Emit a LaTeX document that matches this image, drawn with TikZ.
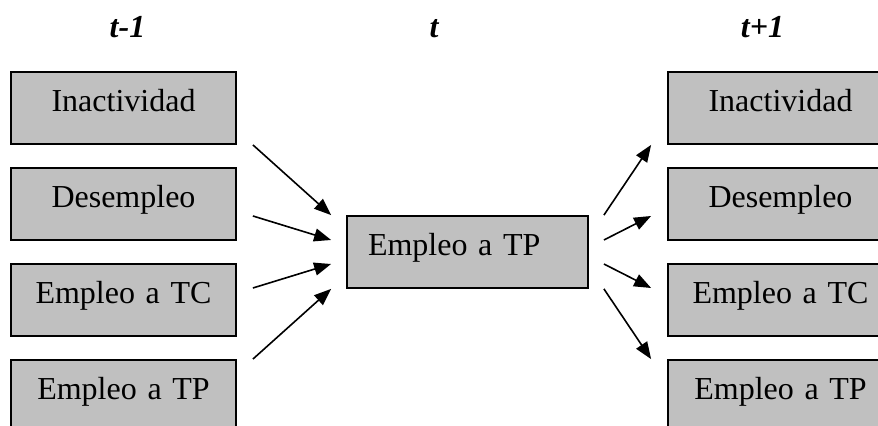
\documentclass[tikz,border=0pt]{standalone}
\usepackage{fontspec}
\setmainfont{Liberation Serif}
\usepackage{xcolor}
\usetikzlibrary{arrows.meta}
\usetikzlibrary{positioning,calc}
\definecolor{cajagris}{RGB}{192,192,192}

\begin{document}
\begin{tikzpicture}[x=0.5pt,y=-0.5pt,
	caja/.style={draw=black,line width=0.9pt,fill=cajagris,rectangle,inner xsep=0pt,inner ysep=0pt,text height=20pt,text depth=16pt,text width=112.5pt,align=center,font=\fontsize{16}{19}\selectfont},
	flecha/.style={-{Triangle[length=8.5pt,width=6.5pt]},line width=0.8pt},
	tiempo/.style={anchor=base,font=\fontsize{16}{19}\selectfont\bfseries\itshape}]
	\clip (0,0) rectangle (878,426);
	% periodos
	\node[tiempo] (h ant) at (127.5,38) {t-1};
	\node[tiempo] (h act) at (434,38) {t};
	\node[tiempo] (h sig) at (762.5,38) {t+1};
	% estados en t-1 y t+1
	\foreach \estado [count=\i] in {Inactividad,Desempleo,Empleo a TC,Empleo a TP} {
		\node[caja] (ant \i) at (123.5,12+96*\i) {\estado};
		\node[caja] (sig \i) at (780.5,12+96*\i) {\estado};
	}
	% estado en t
	\node[caja,text width=99.5pt,inner xsep=10.5pt,align=left] (act) at (467.5,252) {Empleo a TP};
	% entradas
	\draw[flecha] ([xshift=8pt]ant 1.south east) -- ([xshift=-7.5pt]act.north west);
	\draw[flecha] ([shift={(8pt,-6pt)}]ant 2.east) -- ([shift={(-7.5pt,6pt)}]act.west);
	\draw[flecha] ([shift={(8pt,6pt)}]ant 3.east) -- ([shift={(-7.5pt,-6pt)}]act.west);
	\draw[flecha] ([xshift=8pt]ant 4.north east) -- ([xshift=-7.5pt]act.south west);
	% salidas
	\draw[flecha] ([xshift=7.5pt]act.north east) -- ([xshift=-8pt]sig 1.south west);
	\draw[flecha] ([shift={(7.5pt,6pt)}]act.east) -- ([shift={(-8pt,-6pt)}]sig 2.west);
	\draw[flecha] ([shift={(7.5pt,-6pt)}]act.east) -- ([shift={(-8pt,6pt)}]sig 3.west);
	\draw[flecha] ([xshift=7.5pt]act.south east) -- ([xshift=-8pt]sig 4.north west);
\end{tikzpicture}
\end{document}
